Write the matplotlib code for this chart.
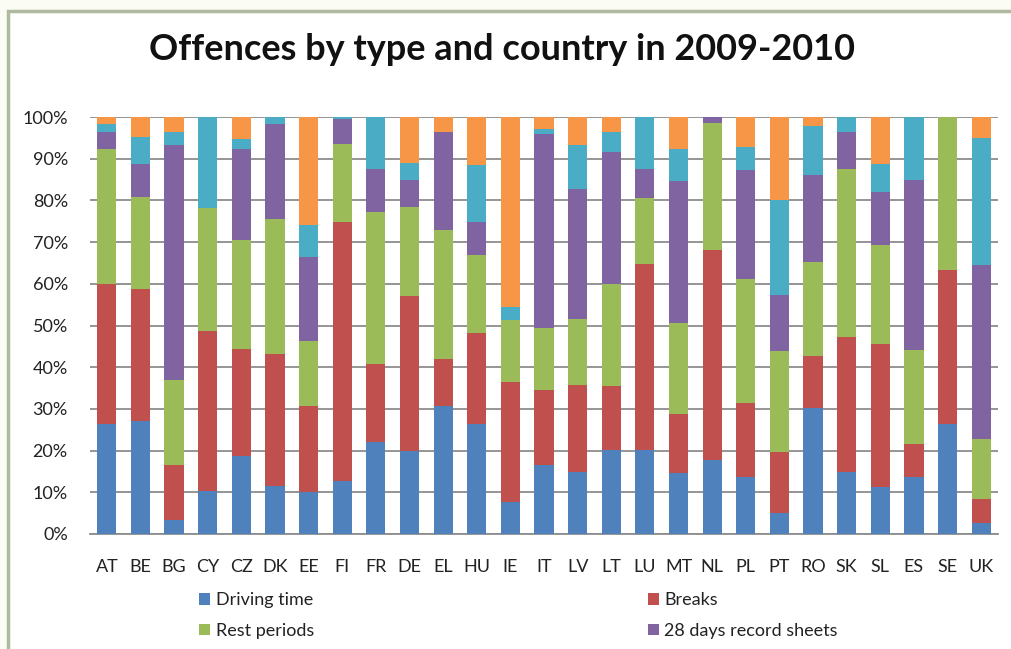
import matplotlib
matplotlib.use("Agg")
import matplotlib.pyplot as plt
import numpy as np
from matplotlib.patches import Rectangle
from matplotlib.ticker import FuncFormatter

plt.rcParams['font.family'] = ['Lato', 'DejaVu Sans']

countries = ["AT", "BE", "BG", "CY", "CZ", "DK", "EE", "FI", "FR", "DE", "EL", "HU", "IE", "IT",
             "LV", "LT", "LU", "MT", "NL", "PL", "PT", "RO", "SK", "SL", "ES", "SE", "UK"]

driving_time = [26.4, 27.2, 3.4, 10.4, 18.8, 11.6, 10.0, 12.8, 22.0, 20.0, 30.6, 26.4, 7.6, 16.6,
                14.8, 20.2, 20.2, 14.6, 17.8, 13.6, 5.0, 30.2, 14.8, 11.2, 13.6, 26.4, 2.6]
breaks = [33.6, 31.6, 13.2, 38.4, 25.6, 31.6, 20.8, 62.0, 18.8, 37.0, 11.4, 21.8, 28.8, 18.0,
          21.0, 15.4, 44.6, 14.2, 50.4, 17.8, 14.6, 12.4, 32.4, 34.4, 8.0, 37.0, 5.8]
rest_periods = [32.4, 22.0, 20.4, 29.4, 26.2, 32.4, 15.6, 18.8, 36.4, 21.4, 30.8, 18.6, 14.8, 14.8,
                15.8, 24.4, 15.8, 21.8, 30.4, 29.8, 24.4, 22.6, 40.4, 23.6, 22.6, 36.6, 14.4]
record_sheets = [4.0, 8.0, 56.2, 0.0, 21.8, 22.8, 20.0, 6.0, 10.4, 6.4, 23.6, 8.0, 0.0, 46.6,
                 31.2, 31.6, 7.0, 34.0, 1.4, 26.2, 13.2, 21.0, 8.8, 12.8, 40.6, 0.0, 41.6]
other_a = [2.0, 6.4, 3.2, 21.8, 2.4, 1.6, 7.8, 0.4, 12.4, 4.2, 0.0, 13.6, 3.2, 1.2,
           10.4, 4.8, 12.4, 7.8, 0.0, 5.4, 23.0, 11.6, 3.6, 6.8, 15.2, 0.0, 30.6]
other_b = [1.6, 4.8, 3.6, 0.0, 5.2, 0.0, 25.8, 0.0, 0.0, 11.0, 3.6, 11.6, 45.6, 2.8,
           6.8, 3.6, 0.0, 7.6, 0.0, 7.2, 19.8, 2.2, 0.0, 11.2, 0.0, 0.0, 5.0]

series = [
    ("Driving time", driving_time, "#4F81BD"),
    ("Breaks", breaks, "#C0504D"),
    ("Rest periods", rest_periods, "#9BBB59"),
    ("28 days record sheets", record_sheets, "#8064A2"),
    ("_other_a", other_a, "#4BACC6"),
    ("_other_b", other_b, "#F79646"),
]

W, H = 1011, 649
fig = plt.figure(figsize=(W / 100, H / 100), dpi=100)
fig.patch.set_facecolor("#FBFCF4")

# chart area with border
fig.add_artist(Rectangle((8 / W, -0.05), 1.2, (H - 11) / H + 0.05, transform=fig.transFigure,
                         facecolor="white", edgecolor="#AEB9A0", linewidth=2.5, zorder=0))

ax = fig.add_axes([90 / W, (H - 534) / H, (998 - 90) / W, (534 - 117) / H])
ax.set_facecolor("white")

x = np.arange(len(countries))
bottom = np.zeros(len(countries))
handles = {}
for name, vals, color in series:
    v = np.array(vals, dtype=float)
    b = ax.bar(x, v, bottom=bottom, width=0.57, color=color, label=name, zorder=3)
    handles[name] = b
    bottom += v

ax.set_xlim(-0.5, len(countries) - 0.5)
ax.set_ylim(0, 100)
ax.set_yticks(np.arange(0, 101, 10))
ax.yaxis.set_major_formatter(FuncFormatter(lambda v, p: f"{int(v)}%"))
ax.grid(axis="y", color="#8C8C8C", linewidth=1.3, zorder=0)
ax.set_axisbelow(True)
for s in ["left", "right", "top"]:
    ax.spines[s].set_visible(False)
ax.spines["bottom"].set_color("#8C8C8C")
ax.spines["bottom"].set_linewidth(1.3)
ax.tick_params(axis="both", length=0, labelsize=13, colors="#222222")
ax.tick_params(axis="y", pad=16)
ax.tick_params(axis="x", pad=18)
ax.set_xticks(x)
ax.set_xticklabels(countries)

fig.text(0.497, 1 - 50 / H, "Offences by type and country in 2009-2010", ha="center", va="center",
         fontsize=26, fontweight="bold", color="#111111")

# column-major order so that rows read: Driving time, Breaks / Rest periods, 28 days record sheets
order = ["Driving time", "Rest periods", "Breaks", "28 days record sheets"]
leg = fig.legend(handles=[handles[n] for n in order], labels=order, ncol=2,
                 loc="upper left", bbox_to_anchor=(183 / W, 1 - 576 / H), frameon=False,
                 fontsize=13, handlelength=0.6, handleheight=0.6, handletextpad=0.3,
                 columnspacing=18.5, labelspacing=0.8)
for t in leg.get_texts():
    t.set_color("#222222")

fig.savefig("out.png", dpi=100, facecolor=fig.get_facecolor())
